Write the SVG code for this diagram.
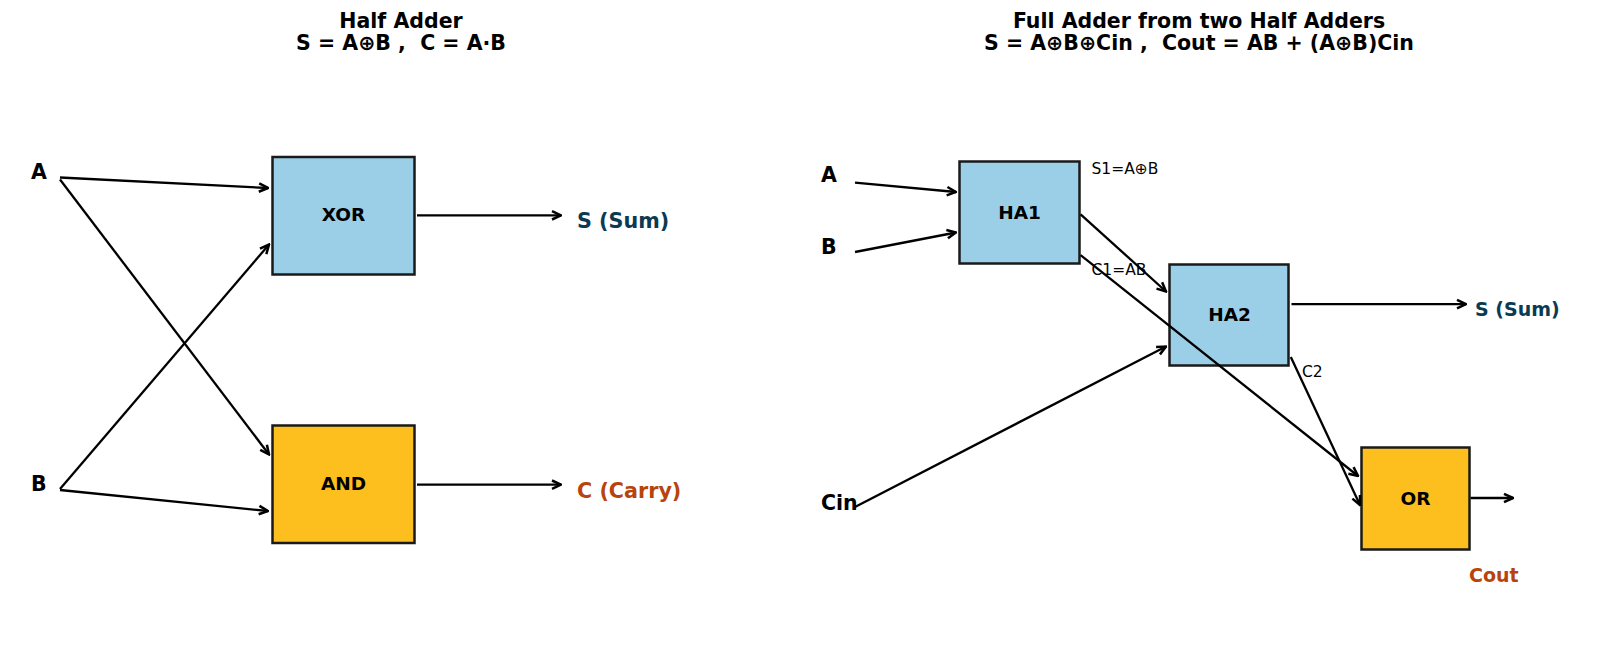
<svg xmlns="http://www.w3.org/2000/svg" width="1600" height="664" viewBox="0 0 1600 664">
<defs>
<marker id="arr" markerWidth="12" markerHeight="12" refX="9" refY="5" orient="auto" markerUnits="userSpaceOnUse" viewBox="0 0 10 10">
<path d="M1.5,1.5 L9,5 L1.5,8.5" fill="none" stroke="#000" stroke-width="2.1" stroke-linejoin="miter"/>
</marker>
<style>
text{font-family:"DejaVu Sans","Liberation Sans",sans-serif;white-space:pre;}
.title{font-size:20.5px;font-weight:bold;text-anchor:middle;fill:#000;}
.in{font-size:20.5px;font-weight:bold;fill:#000;dominant-baseline:central;}
.nl{font-size:18.5px;font-weight:bold;text-anchor:middle;dominant-baseline:central;fill:#000;}
.sm{font-size:15.5px;fill:#000;dominant-baseline:central;}
.sum{font-weight:bold;fill:#0b3a52;dominant-baseline:central;}
.carry{font-weight:bold;fill:#b8440b;dominant-baseline:central;}
.blue{fill:#9bcfe8;stroke:#1a1a1a;stroke-width:2.5;}
.gold{fill:#fcbf1e;stroke:#1a1a1a;stroke-width:2.5;}
.c line{stroke:#000;stroke-width:2.3;marker-end:url(#arr);}
</style>
</defs>
<rect width="1600" height="664" fill="#fff"/>
<text class="title" x="401" y="28" xml:space="preserve">Half Adder</text>
<text class="title" x="401" y="50" xml:space="preserve">S = A⊕B ,  C = A·B</text>
<text class="title" x="1199" y="28" xml:space="preserve">Full Adder from two Half Adders</text>
<text class="title" x="1199" y="50" xml:space="preserve">S = A⊕B⊕Cin ,  Cout = AB + (A⊕B)Cin</text>

<g id="in-A"><text class="in" x="31" y="171.5">A</text></g>
<g id="in-B"><text class="in" x="31" y="484">B</text></g>
<g id="xor"><rect class="blue" x="272.5" y="157" width="142" height="117.5"/><text class="nl" x="343.5" y="214.5">XOR</text></g>
<g id="and"><rect class="gold" x="272.5" y="425.5" width="142" height="117.5"/><text class="nl" x="343.5" y="483.5">AND</text></g>
<g id="out-S"><text class="sum" x="577" y="221" font-size="20.7">S (Sum)</text></g>
<g id="out-C"><text class="carry" x="577" y="490.5" font-size="20.7">C (Carry)</text></g>

<g id="fa-A"><text class="in" x="821" y="175">A</text></g>
<g id="fa-B"><text class="in" x="821" y="246.5">B</text></g>
<g id="fa-Cin"><text class="in" x="821" y="503">Cin</text></g>
<g id="ha1"><rect class="blue" x="959.5" y="161.5" width="120" height="102"/><text class="nl" x="1019.5" y="212.5">HA1</text></g>
<g id="ha2"><rect class="blue" x="1169.5" y="264.5" width="119" height="101"/><text class="nl" x="1229.5" y="314.5">HA2</text></g>
<g id="or"><rect class="gold" x="1361.5" y="447.5" width="108" height="102"/><text class="nl" x="1415.5" y="498">OR</text></g>
<g id="fa-S"><text class="sum" x="1475" y="309" font-size="19">S (Sum)</text></g>
<g id="fa-Cout"><text class="carry" x="1469" y="575" font-size="19">Cout</text></g>

<g id="connectors" class="c">
<line x1="60" y1="177.5" x2="268" y2="188"/>
<line x1="60" y1="179.5" x2="269" y2="454.5"/>
<line x1="60" y1="489" x2="269" y2="244.5"/>
<line x1="60" y1="490" x2="268" y2="511"/>
<line x1="417" y1="215.3" x2="561" y2="215.3"/>
<line x1="417" y1="484.7" x2="561" y2="484.7"/>
<line x1="855" y1="182.7" x2="956" y2="192"/>
<line x1="855" y1="252" x2="956" y2="232.5"/>
<line x1="1080.6" y1="214.3" x2="1166" y2="291.5"/>
<line x1="1080.6" y1="255.1" x2="1358" y2="476"/>
<line x1="855" y1="507" x2="1166" y2="346.5"/>
<line x1="1291.5" y1="304.1" x2="1466" y2="304.1"/>
<line x1="1290.8" y1="357.1" x2="1360" y2="505"/>
<line x1="1470.5" y1="498" x2="1513" y2="498"/>
<text class="sm" x="1091.5" y="168.5">S1=A⊕B</text>
<text class="sm" x="1091.5" y="269.5">C1=AB</text>
<text class="sm" x="1302" y="371.5">C2</text>
</g>
</svg>
